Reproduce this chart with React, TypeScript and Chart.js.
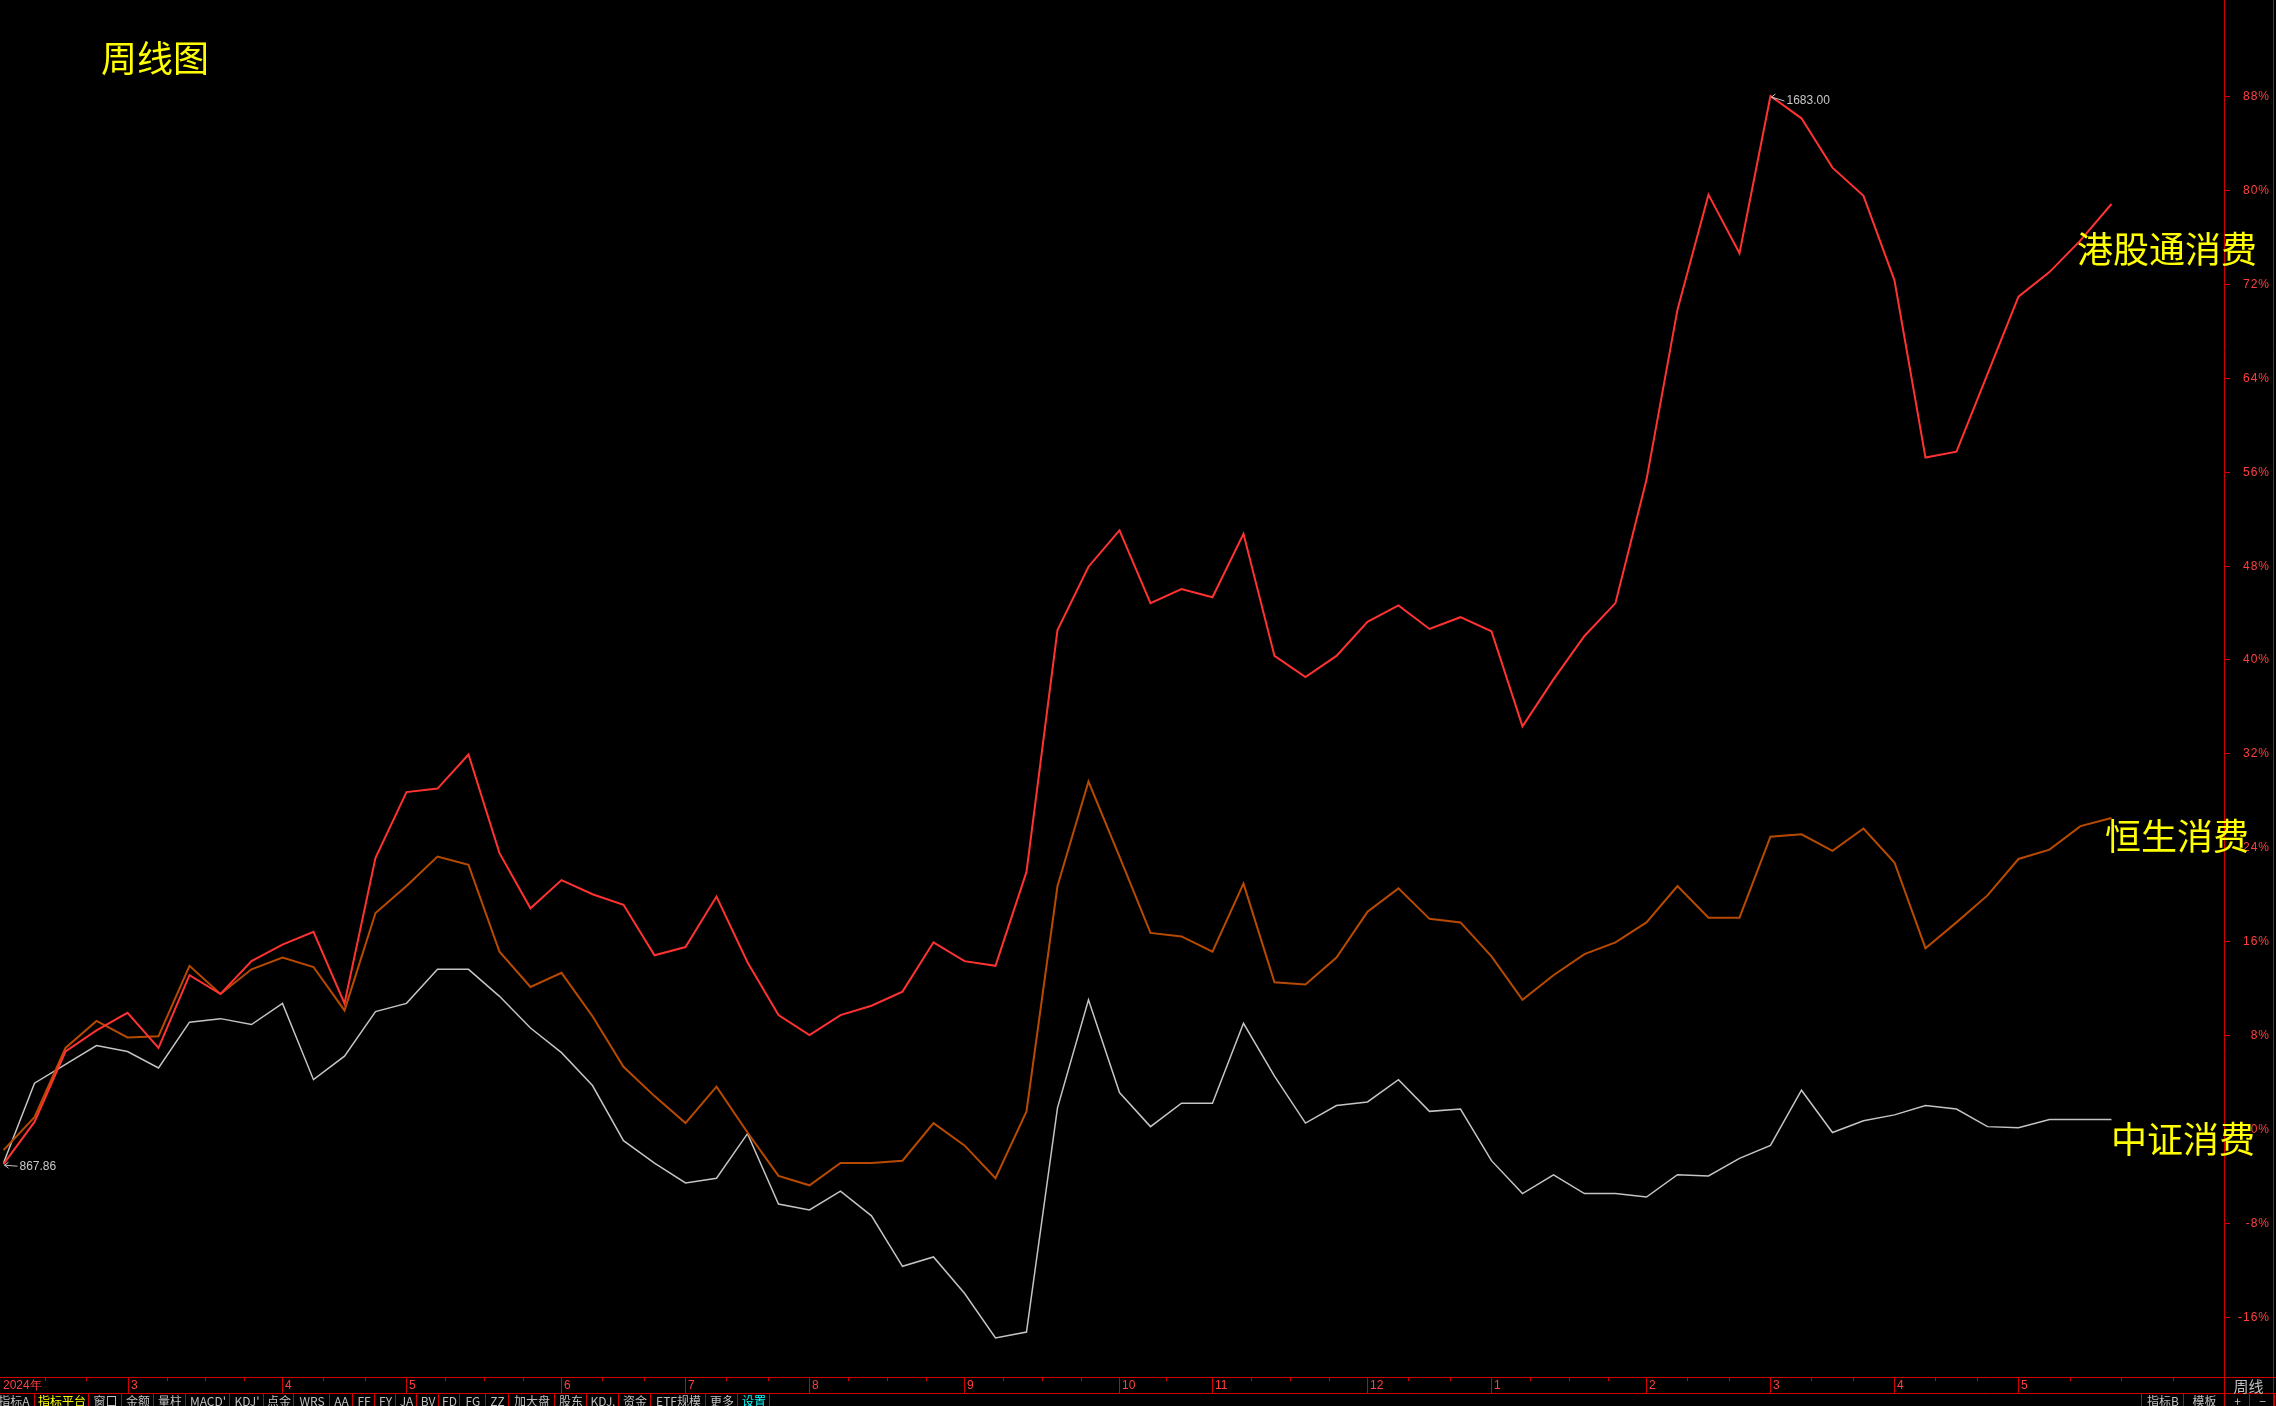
import React, { useEffect, useRef } from "react";
import { Chart, registerables } from "chart.js";

Chart.register(...registerables);

// ---- Data (percent change, weekly) ----
const hkConnectConsumer = [
  -3.0, 0.6, 6.6, 8.4, 9.9, 6.9, 13.1, 11.5, 14.3, 15.7, 16.8, 10.7, 23.1, 28.7, 29.0, 31.9, 23.5, 18.8, 21.2, 20.0,
  19.1, 14.8, 15.5, 19.8, 14.2, 9.7, 8.0, 9.7, 10.5, 11.7, 15.9, 14.3, 13.9, 21.9, 42.5, 47.9, 51.0, 44.8, 46.0, 45.3,
  50.7, 40.3, 38.5, 40.3, 43.2, 44.6, 42.6, 43.6, 42.4, 34.3, 38.3, 42.0, 44.8, 55.3, 69.8, 79.6, 74.6, 88.0, 86.1, 81.9,
  79.5, 72.3, 57.2, 57.7, 64.3, 70.9, 73.0, 75.7, 78.8,
];
const hangSengConsumer = [
  -1.8, 1.0, 6.9, 9.2, 7.8, 7.9, 13.9, 11.5, 13.6, 14.6, 13.8, 10.1, 18.4, 20.7, 23.2, 22.5, 15.1, 12.1, 13.3, 9.6,
  5.3, 2.8, 0.5, 3.6, -0.3, -4.0, -4.8, -2.9, -2.9, -2.7, 0.5, -1.4, -4.2, 1.5, 20.7, 29.6, 23.2, 16.7, 16.4, 15.1,
  20.9, 12.5, 12.3, 14.6, 18.5, 20.5, 17.9, 17.6, 14.7, 11.0, 13.1, 14.9, 15.9, 17.6, 20.7, 18.0, 18.0, 24.9, 25.1, 23.7,
  25.6, 22.7, 15.4, 17.6, 19.9, 23.0, 23.8, 25.8, 26.5,
];
const csiConsumer = [
  -2.9, 3.9, 5.5, 7.1, 6.6, 5.2, 9.1, 9.4, 8.9, 10.7, 4.2, 6.2, 10.0, 10.7, 13.6, 13.6, 11.3, 8.6, 6.5, 3.7,
  -1.0, -2.9, -4.6, -4.2, -0.4, -6.4, -6.9, -5.3, -7.4, -11.7, -10.9, -14.0, -17.8, -17.3, 1.8, 11.0, 3.1, 0.2, 2.2, 2.2,
  9.0, 4.5, 0.5, 2.0, 2.3, 4.2, 1.5, 1.7, -2.7, -5.5, -3.9, -5.5, -5.5, -5.8, -3.9, -4.0, -2.5, -1.4, 3.3, -0.3,
  0.7, 1.2, 2.0, 1.7, 0.2, 0.1, 0.8, 0.8, 0.8,
];

const seriesNames = ["港股通消费", "恒生消费", "中证消费"];
const monthTickIndex = [0, 4, 9, 13, 18, 22, 26, 31, 36, 39, 44, 48, 53, 57, 61, 65];
const monthTickLabels = ["2024年", "3", "4", "5", "6", "7", "8", "9", "10", "11", "12", "1", "2", "3", "4", "5"];
const yTickValues = [-16, -8, 0, 8, 16, 24, 32, 40, 48, 56, 64, 72, 80, 88];
const hkHighPrice = "1683.00";
const hkLowPrice = "867.86";
const chartTitle = "周线图";
const toolbarLeftLabels = ["指标A", "指标平台", "窗口", "金额", "量柱", "MACD'", "KDJ'", "点金", "WRS", "AA", "FF", "FY", "JA", "BV", "FD", "FG", "ZZ", "加大盘", "股东", "KDJ.", "资金", "ETF规模", "更多", "设置"];
const toolbarRightLabels = ["指标B", "模板", "+", "−"];
const periodLabel = "周线";

// UI chrome layout (not data)
const toolbarLeftSeps = [34, 88, 121, 153, 185, 229, 263, 293, 329, 352, 374, 395, 416, 438, 459, 485, 508, 554, 586, 618, 650, 705, 737, 769];
const toolbarRightSeps = [2141, 2183, 2224, 2249, 2274];

const W = 2276;
const H = 1406;
const AXIS_RED = "#d00000";
const TEXT_RED = "#ff4040";
const CJK = '"Noto Sans CJK SC", "Noto Sans", sans-serif';

const overlayPlugin = {
  id: "overlay",
  beforeDraw(chart: any) {
    const ctx = chart.ctx;
    ctx.save();
    ctx.fillStyle = "#000";
    ctx.fillRect(0, 0, chart.width, chart.height);
    ctx.restore();
  },
  afterDraw(chart: any) {
    const ctx = chart.ctx as any;
    const xs = chart.scales.x;
    const ys = chart.scales.y;
    const area = chart.chartArea;
    const bottom = Math.round(area.bottom);
    const right = Math.round(area.right);
    const rowBottom = bottom + 16;
    ctx.save();

    const hline = (x1: number, x2: number, y: number) => {
      ctx.beginPath();
      ctx.moveTo(x1, y + 0.5);
      ctx.lineTo(x2, y + 0.5);
      ctx.stroke();
    };
    const vline = (x: number, y1: number, y2: number) => {
      ctx.beginPath();
      ctx.moveTo(x + 0.5, y1);
      ctx.lineTo(x + 0.5, y2);
      ctx.stroke();
    };

    ctx.strokeStyle = AXIS_RED;
    ctx.lineWidth = 1;
    hline(0, W, bottom);
    hline(0, W, rowBottom);
    vline(right, 0, H);
    vline(W - 3, 0, H);

    // y ticks + labels
    ctx.font = '12px "Liberation Sans", Arial, sans-serif';
    if ("letterSpacing" in ctx) ctx.letterSpacing = "1px";
    ctx.fillStyle = TEXT_RED;
    ctx.textAlign = "right";
    ctx.textBaseline = "middle";
    for (const v of yTickValues) {
      const py = Math.round(ys.getPixelForValue(v));
      hline(right, right + 6, py);
      ctx.fillText(v + "%", right + 46, py + 0.5);
    }
    if ("letterSpacing" in ctx) ctx.letterSpacing = "0px";

    // month ticks (date row)
    ctx.textAlign = "left";
    ctx.font = '12px "Liberation Sans", Arial, sans-serif';
    for (let i = 0; i < monthTickIndex.length; i++) {
      const px = Math.round(xs.getPixelForValue(monthTickIndex[i]));
      const lx = i === 0 ? 0 : px;
      if (i > 0) vline(lx, bottom, rowBottom);
      ctx.fillText(monthTickLabels[i], lx + 3, bottom + 9);
      const nextIdx = i + 1 < monthTickIndex.length ? monthTickIndex[i + 1] : monthTickIndex[i] + 5;
      const nx = i + 1 < monthTickIndex.length ? xs.getPixelForValue(nextIdx) : right;
      const weeks = nextIdx - monthTickIndex[i];
      const parts = Math.max(weeks - 1, 2);
      for (let k = 1; k < parts; k++) {
        const mx = Math.round(px + ((nx - px) * k) / parts);
        if (mx < right) vline(mx, bottom, bottom + 4);
      }
    }

    // period label
    ctx.fillStyle = "#c0c0c0";
    ctx.font = "15px " + CJK;
    ctx.textAlign = "center";
    ctx.fillText(periodLabel, (right + W - 3) / 2, bottom + 9);

    // toolbar
    ctx.font = "12px " + CJK;
    ctx.textBaseline = "middle";
    let prev = -8;
    for (let i = 0; i < toolbarLeftLabels.length; i++) {
      const sx = toolbarLeftSeps[i];
      vline(sx, rowBottom, H);
      const lab = toolbarLeftLabels[i];
      ctx.fillStyle = lab === "指标平台" ? "#ffff00" : lab === "设置" ? "#00ffff" : "#c0c0c0";
      ctx.fillText(lab, (prev + sx) / 2 + 1, rowBottom + 8);
      prev = sx;
    }
    prev = toolbarRightSeps[0];
    vline(prev, rowBottom, H);
    for (let i = 0; i < toolbarRightLabels.length; i++) {
      const sx = toolbarRightSeps[i + 1];
      vline(sx, rowBottom, H);
      ctx.fillStyle = "#c0c0c0";
      ctx.fillText(toolbarRightLabels[i], (prev + sx) / 2 + 1, rowBottom + 8);
      prev = sx;
    }

    // high / low annotations for main series
    const drawMark = (idx: number, text: string, dy: number) => {
      const px = xs.getPixelForValue(idx);
      const py = ys.getPixelForValue(hkConnectConsumer[idx]);
      ctx.strokeStyle = "#c0c0c0";
      ctx.lineWidth = 1;
      const tipX = px + 1;
      const tipY = py + 1;
      const tailX = px + 14;
      const tailY = py + dy;
      ctx.beginPath();
      ctx.moveTo(tipX, tipY);
      ctx.lineTo(tailX, tailY);
      ctx.moveTo(tipX, tipY);
      ctx.lineTo(tipX + 4, tipY - 3);
      ctx.moveTo(tipX, tipY);
      ctx.lineTo(tipX + 4, tipY + 3);
      ctx.stroke();
      ctx.fillStyle = "#c8c8c8";
      ctx.font = '12px "Liberation Sans", Arial, sans-serif';
      ctx.textAlign = "left";
      ctx.textBaseline = "middle";
      ctx.fillText(text, tailX + 2, tailY);
    };
    let hi = 0;
    let lo = 0;
    hkConnectConsumer.forEach((v, i) => {
      if (v > hkConnectConsumer[hi]) hi = i;
      if (v < hkConnectConsumer[lo]) lo = i;
    });
    drawMark(hi, hkHighPrice, 5);
    drawMark(lo, hkLowPrice, 2);

    // title and series labels
    ctx.fillStyle = "#ffff00";
    ctx.font = "36px " + CJK;
    ctx.textAlign = "left";
    ctx.textBaseline = "middle";
    ctx.fillText(chartTitle, 101, 58);
    ctx.fillText(seriesNames[0], 2077, 249);
    ctx.fillText(seriesNames[1], 2105, 836);
    ctx.fillText(seriesNames[2], 2111, 1139);

    ctx.restore();
  },
};

export default function App() {
  const ref = useRef<HTMLCanvasElement | null>(null);

  useEffect(() => {
    document.body.style.margin = "0";
    document.body.style.background = "#000";
    const canvas = ref.current;
    if (!canvas) return;
    const toPts = (arr: number[]) => arr.map((v, i) => ({ x: i, y: v }));
    const chart = new Chart(canvas, {
      type: "line",
      data: {
        datasets: [
          { label: seriesNames[0], data: toPts(hkConnectConsumer), borderColor: "#ff3232", borderWidth: 2, pointRadius: 0, tension: 0, fill: false },
          { label: seriesNames[1], data: toPts(hangSengConsumer), borderColor: "#b84a00", borderWidth: 2, pointRadius: 0, tension: 0, fill: false },
          { label: seriesNames[2], data: toPts(csiConsumer), borderColor: "#c4c4c4", borderWidth: 1.5, pointRadius: 0, tension: 0, fill: false },
        ],
      },
      options: {
        animation: false,
        responsive: false,
        devicePixelRatio: 1,
        layout: { padding: { left: 0, top: 0, right: 52, bottom: 29 } },
        plugins: { legend: { display: false }, tooltip: { enabled: false } },
        events: [],
        scales: {
          x: { type: "linear", display: false, min: -0.113, max: 71.63 },
          y: { type: "linear", display: false, min: -21.13, max: 96.18 },
        },
      },
      plugins: [overlayPlugin],
    });
    return () => chart.destroy();
  }, []);

  return (
    <div style={{ position: "fixed", left: 0, top: 0, width: W, height: H, background: "#000" }}>
      <canvas ref={ref} width={W} height={H} style={{ width: W, height: H, display: "block" }} />
    </div>
  );
}
